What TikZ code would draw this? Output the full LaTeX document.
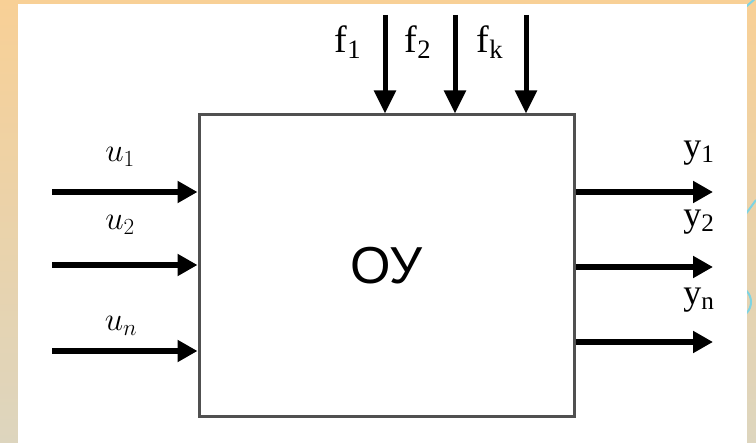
\RequirePackage{fix-cm}
\documentclass[tikz,border=0pt]{standalone}
\usepackage{fontspec}
\newfontfamily\oufont{Liberation Sans}
\newfontfamily\lblfont{Liberation Serif}
\usetikzlibrary{arrows.meta,positioning}
\definecolor{bgtop}{HTML}{F8D096}
\definecolor{bgbot}{HTML}{DDD5BE}
\definecolor{deco}{HTML}{7ED4E2}
\definecolor{boxgray}{HTML}{505050}

\begin{document}
\begin{tikzpicture}[
  x=1pt, y=-1pt,
  obj/.style={rectangle, draw=boxgray, line width=3pt, minimum width=375pt, minimum height=302pt, inner sep=0pt, font=\oufont\fontsize{52}{52}\selectfont},
  inarr/.style={-{Triangle[length=20pt,width=21pt]}, line width=6pt},
  dnarr/.style={-{Triangle[length=23pt,width=21pt]}, line width=5pt},
  lbl/.style={inner sep=0pt, font=\fontsize{33}{33}\selectfont},
  flbl/.style={inner sep=0pt, font=\lblfont\fontsize{38}{38}\selectfont},
  ylbl/.style={inner sep=0pt, font=\lblfont\fontsize{36}{36}\selectfont}
]
\useasboundingbox (0,0) rectangle (756,443);
\shade[top color=bgtop, bottom color=bgbot] (0,0) rectangle (756,443);
\draw[deco, line width=2pt] (740,12) -- (756,-2);
\draw[deco, line width=2pt] (740,222) -- (756,200);
\draw[deco, line width=2pt] (735,302) circle (16);
\fill[white] (18,4) rectangle (747,443);

\node[obj] (ou) at (386.5,266) {ОУ};

\coordinate (u1s) at (52,192);
\coordinate (u2s) at (52,265);
\coordinate (uns) at (52,351);
\node[lbl] (u1) at (120,157) {$u_1$};
\node[lbl] (u2) at (120,225) {$u_2$};
\node[lbl] (un) at (121,326) {$u_n$};
\draw[inarr] (u1s) -- (u1s -| ou.west);
\draw[inarr] (u2s) -- (u2s -| ou.west);
\draw[inarr] (uns) -- (uns -| ou.west);

\coordinate (f1s) at (385,15);
\coordinate (f2s) at (455,15);
\coordinate (fks) at (526,15);
\node[flbl] (f1) at (348,42) {f\textsubscript{1}};
\node[flbl] (f2) at (418,42) {f\textsubscript{2}};
\node[flbl] (fk) at (490,42) {f\textsubscript{k}};
\draw[dnarr] (f1s) -- (f1s |- ou.north);
\draw[dnarr] (f2s) -- (f2s |- ou.north);
\draw[dnarr] (fks) -- (fks |- ou.north);

\coordinate (y1e) at (713,192);
\coordinate (y2e) at (713,267);
\coordinate (yne) at (713,342);
\node[ylbl] (y1) at (699,153) {y\textsubscript{1}};
\node[ylbl] (y2) at (699,222) {y\textsubscript{2}};
\node[ylbl] (yn) at (699,300) {y\textsubscript{n}};
\draw[inarr] (y1e -| ou.east) -- (y1e);
\draw[inarr] (y2e -| ou.east) -- (y2e);
\draw[inarr] (yne -| ou.east) -- (yne);
\end{tikzpicture}
\end{document}
